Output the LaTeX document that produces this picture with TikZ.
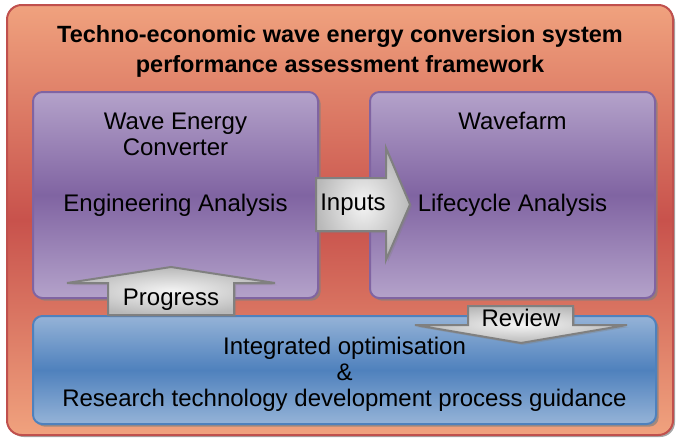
\documentclass[tikz,border=0pt]{standalone}
\usepackage{fontspec}
\setmainfont{Liberation Sans}
\usetikzlibrary{shadows}

\definecolor{frameline}{RGB}{192,80,77}
\definecolor{framelight}{RGB}{240,162,126}
\definecolor{framedark}{RGB}{200,82,76}
\definecolor{purpline}{RGB}{128,100,162}
\definecolor{purplight}{RGB}{180,162,202}
\definecolor{purpdark}{RGB}{128,100,162}
\definecolor{blueline}{RGB}{79,129,189}
\definecolor{bluelight}{RGB}{149,179,215}
\definecolor{bluedark}{RGB}{79,129,189}

\tikzset{
    txt/.style={font=\fontsize{18}{19.5}\selectfont, align=center, inner sep=0pt},
    framebox/.style={draw=frameline, line width=1.5pt, rounded corners=11pt,
        top color=framelight, bottom color=framelight, middle color=framedark,
        drop shadow={shadow xshift=1.5pt, shadow yshift=-1.5pt, opacity=0.7}},
    purpbox/.style={draw=purpline, line width=1.5pt, rounded corners=7pt,
        top color=purplight, bottom color=purplight, middle color=purpdark,
        drop shadow={shadow xshift=2pt, shadow yshift=-2pt, opacity=0.7}},
    bluebox/.style={draw=blueline, line width=1.5pt, rounded corners=7pt,
        top color=bluelight, bottom color=bluelight, middle color=bluedark,
        drop shadow={shadow xshift=2pt, shadow yshift=-2pt, opacity=0.7}},
    blockarrow/.style={draw=gray, line width=1.5pt, line join=miter,
        shading=radial, inner color=gray!8, outer color=gray!55,
        drop shadow={shadow xshift=1.5pt, shadow yshift=-1.5pt, opacity=0.35}}
}

\begin{document}
\begin{tikzpicture}[x=0.75pt, y=-0.75pt]
\useasboundingbox (0,0) rectangle (680,439);

% Outer frame
\path[framebox] (7,5) rectangle (673,435);
\node[txt, font=\bfseries\fontsize{17.6}{22.5}\selectfont] (title) at (340,51)
    {Techno-economic wave energy conversion system\\performance assessment framework};

% Left box
\path[purpbox] (33,92) rectangle (318,298);
\node[txt] (wec) at (175.5,134) {Wave Energy\\Converter};
\node[txt] (eng) at (175.5,205) {Engineering Analysis};

% Right box
\path[purpbox] (370,92) rectangle (655,298);
\node[txt] (farm) at (512.5,121) {Wavefarm};
\node[txt] (life) at (512.5,205) {Lifecycle Analysis};

% Bottom box
\path[bluebox] (33,316) rectangle (656,424);
\node[txt] (opt) at (344.5,374)
    {Integrated optimisation\\\&\\Research technology development process guidance};

% Block arrows
\path[blockarrow] (316,178) -- (386,178) -- (386,148) -- (410,204.5) -- (386,260)
    -- (386,231) -- (316,231) -- cycle;
\node[txt] (inputs) at (353,205) {Inputs};

\path[blockarrow] (108,315) -- (108,283) -- (67,283) -- (171,267) -- (275,283)
    -- (234,283) -- (234,315) -- cycle;
\node[txt] (progress) at (171,300) {Progress};

\path[blockarrow] (468,306) -- (573,306) -- (573,325) -- (627,325) -- (521,343)
    -- (415,325) -- (468,325) -- cycle;
\node[txt] (review) at (521,318) {Review};
\end{tikzpicture}
\end{document}
